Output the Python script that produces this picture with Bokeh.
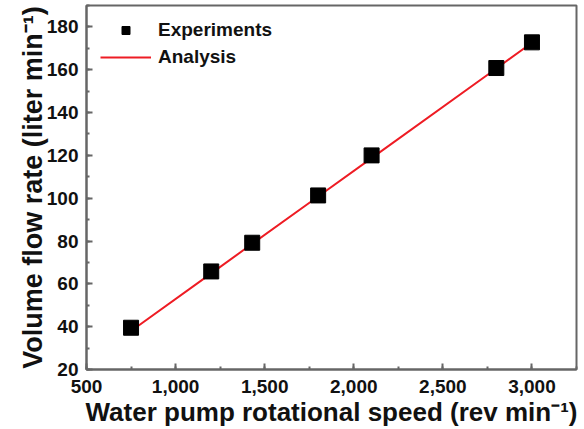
from bokeh.plotting import figure
from bokeh.models import (Range1d, SingleIntervalTicker, NumeralTickFormatter,
                          Legend, LegendItem, ColumnDataSource)
from bokeh.embed import file_html
from bokeh.resources import INLINE

# Pump speed (rev/min) and measured volume flow rate (liter/min)
speed = [750, 1200, 1430, 1800, 2100, 2800, 3000]
flow_experiment = [39.5, 65.8, 79.2, 101.3, 120.0, 160.8, 172.8]
# Analytical prediction at the same speeds
flow_analysis = [38.0, 64.9, 78.7, 100.8, 118.7, 160.6, 172.6]

x_ticks = [500, 1000, 1500, 2000, 2500, 3000]
y_ticks = [20, 40, 60, 80, 100, 120, 140, 160, 180]

FONT = "Liberation Sans"
FRAME = "#666666"
INK = "#111111"

p = figure(width=584, height=429, output_backend="svg", toolbar_location=None,
           x_range=Range1d(500, 3250), y_range=Range1d(20, 190),
           min_border_left=86, min_border_right=8, min_border_top=5,
           min_border_bottom=60)
p.grid.visible = False
p.outline_line_color = FRAME
p.outline_line_width = 2
p.background_fill_color = "white"
p.border_fill_color = "white"

src = ColumnDataSource(dict(x=speed, y=flow_experiment, ya=flow_analysis))
line = p.line("x", "ya", source=src, line_color="#ee1c24", line_width=2)
pts = p.scatter("x", "y", source=src, marker="square", size=15,
                fill_color="black", line_color="black")
# smaller marker used only for the legend entry (kept outside the view)
key = p.scatter(x=[-1000], y=[-1000], marker="square", size=9,
                fill_color="black", line_color="black")

p.xaxis.ticker = SingleIntervalTicker(interval=500, num_minor_ticks=2)
p.yaxis.ticker = SingleIntervalTicker(interval=20, num_minor_ticks=2)
p.xaxis.formatter = NumeralTickFormatter(format="0,0")

for axes in (p.xaxis, p.yaxis):
    axes.axis_line_color = FRAME
    axes.axis_line_width = 2
    axes.major_tick_line_color = FRAME
    axes.minor_tick_line_color = FRAME
    axes.major_tick_line_width = 2
    axes.minor_tick_line_width = 2
    axes.major_tick_in = 6
    axes.major_tick_out = 0
    axes.minor_tick_in = 3
    axes.minor_tick_out = 0
    axes.major_label_text_font = FONT
    axes.major_label_text_font_style = "bold"
    axes.major_label_text_font_size = "19px"
    axes.major_label_text_color = INK
    axes.axis_label_text_font = FONT
    axes.axis_label_text_font_style = "bold"
    axes.axis_label_text_color = INK

p.xaxis.axis_label = "Water pump rotational speed (rev min\u207b\u00b9)"
p.xaxis.axis_label_text_font_size = "26px"
p.xaxis.major_label_standoff = 10
p.xaxis.axis_label_standoff = 1

p.yaxis.axis_label = "Volume flow rate (liter min\u207b\u00b9)"
p.yaxis.axis_label_text_font_size = "27px"
p.yaxis.major_label_standoff = 8
p.yaxis.axis_label_standoff = -4

legend = Legend(items=[LegendItem(label="Experiments", renderers=[key]),
                       LegendItem(label="Analysis", renderers=[line])],
                location="top_left", margin=14, padding=4,
                border_line_color=None, background_fill_alpha=0,
                glyph_width=51, glyph_height=20, label_height=20,
                label_standoff=7, spacing=5,
                label_text_font=FONT, label_text_font_style="bold",
                label_text_font_size="19px", label_text_color=INK)
p.add_layout(legend)

open("out.html", "w").write(file_html(p, INLINE))
